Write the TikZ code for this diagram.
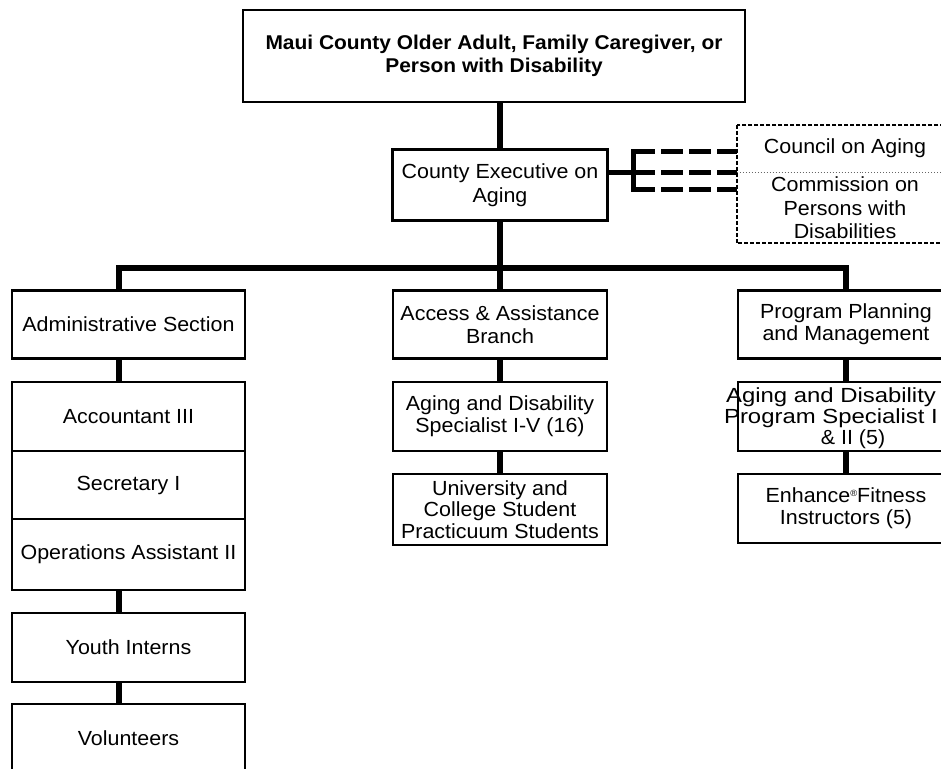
\documentclass[tikz,border=0pt]{standalone}
\usepackage{fontspec}
\setmainfont{Liberation Sans}[FakeStretch=1.05]
\newfontfamily\widefont{Liberation Sans}[FakeStretch=1.17]
\usetikzlibrary{calc}
\begin{document}
\begin{tikzpicture}[x=1bp,y=-1bp,
  txt/.style={inner sep=0pt, align=center, font=\fontsize{20.5}{22.5}\selectfont},
  box/.style={txt, draw, line width=2.5bp},
  colL/.style={box, minimum width=233bp},
  colM/.style={box, minimum width=214bp},
  colR/.style={box, minimum width=216bp},
  conn/.style={line width=6bp},
  bconn/.style={line width=5bp, dash pattern=on 22bp off 6bp},
  dbox/.style={line width=2bp, dash pattern=on 4bp off 2bp}]
\fill[white] (0,0) rectangle (941,769);
\useasboundingbox (0,0) rectangle (941,769);

% top
\node[box, font=\fontsize{20}{23}\selectfont\bfseries, minimum width=502bp, minimum height=92bp] (top) at (494,56)
  {Maui County Older Adult, Family Caregiver, or\\Person with Disability};
\node[box, minimum width=215bp, minimum height=71bp, font=\fontsize{20.5}{24}\selectfont] (exec) at (500,185)
  {County Executive on\\Aging};

% council / commission
\node[txt, minimum width=216bp, minimum height=47bp] (council) at (845,148.5) {Council on Aging};
\node[txt, minimum width=216bp, minimum height=70bp, font=\fontsize{20.5}{23.5}\selectfont] (commission) at (845,208)
  {Commission on\\Persons with\\Disabilities};
\draw[dbox] (council.north west) rectangle (commission.south east);
\draw[dotted, line width=1bp, black!60] (council.south west) -- (council.south east);

% left column
\node[colL, minimum height=68bp] (admin) at (128.5,324.5) {Administrative Section};
\node[colL, minimum height=69bp] (acct) at (128.5,416.5) {Accountant III};
\node[colL, minimum height=68bp] (sec) at (128.5,485) {Secretary I};
\node[colL, minimum height=71bp] (ops) at (128.5,554.5) {Operations Assistant II};
\node[colL, minimum height=69bp] (youth) at (128.5,647.5) {Youth Interns};
\node[colL, minimum height=69bp] (vol) at (128.5,738.5) {Volunteers};

% middle column
\node[colM, minimum height=68bp] (access) at (500,324.5) {Access \& Assistance\\Branch};
\node[colM, minimum height=69bp] (agingm) at (500,416.5) {Aging and Disability\\Specialist I-V (16)};
\node[colM, minimum height=71bp, font=\fontsize{20.5}{21.5}\selectfont] (univ) at (500,509.5)
  {University and\\College Student\\Practicuum Students};

% right column
\node[colR, minimum height=68bp] (plan) at (846,324.5) {Program Planning\\and Management};
\node[colR, minimum height=69bp] (ads2) at (846,416.5) {};
\node[txt, font=\fontsize{20.5}{21}\selectfont] (ads2t) at (831,418)
  {{\widefont Aging and Disability}\\{\widefont Program Specialist I}\\\hspace*{44bp}\& II (5)};
\node[colR, minimum height=69bp] (enh) at (846,508.5)
  {Enhance{\raisebox{6bp}{\fontsize{9}{9}\selectfont ®}}Fitness\\Instructors (5)};

% connectors
\coordinate (busL) at (118.5,268);
\coordinate (busR) at (846,268);
\draw[conn] (top.south -| exec.north) -- (exec.north);
\draw[conn] (exec.south) -- (access.north);
\draw[conn] (admin.north -| busL) -- (busL) -- (busR) -- (plan.north);
\draw[conn] (admin.south -| busL) -- (acct.north -| busL);
\draw[conn] (ops.south -| busL) -- (youth.north -| busL);
\draw[conn] (youth.south -| busL) -- (vol.north -| busL);
\draw[conn] (access.south) -- (agingm.north);
\draw[conn] (agingm.south) -- (univ.north);
\draw[conn] (plan.south) -- (ads2.north);
\draw[conn] (ads2.south) -- (enh.north);

% dashed bracket to council / commission
\coordinate (bx) at (633,172);
\coordinate (bxT) at (633,151);
\coordinate (bxB) at (633,189);
\draw[line width=5bp] (exec.east |- bx) -- (bx);
\draw[line width=5bp, line cap=rect] (bxT) -- (bxB);
\draw[bconn] (bxT) -- (bxT -| council.west);
\draw[bconn] (bx) -- (bx -| council.west);
\draw[bconn] (bxB) -- (bxB -| council.west);
\end{tikzpicture}
\end{document}
